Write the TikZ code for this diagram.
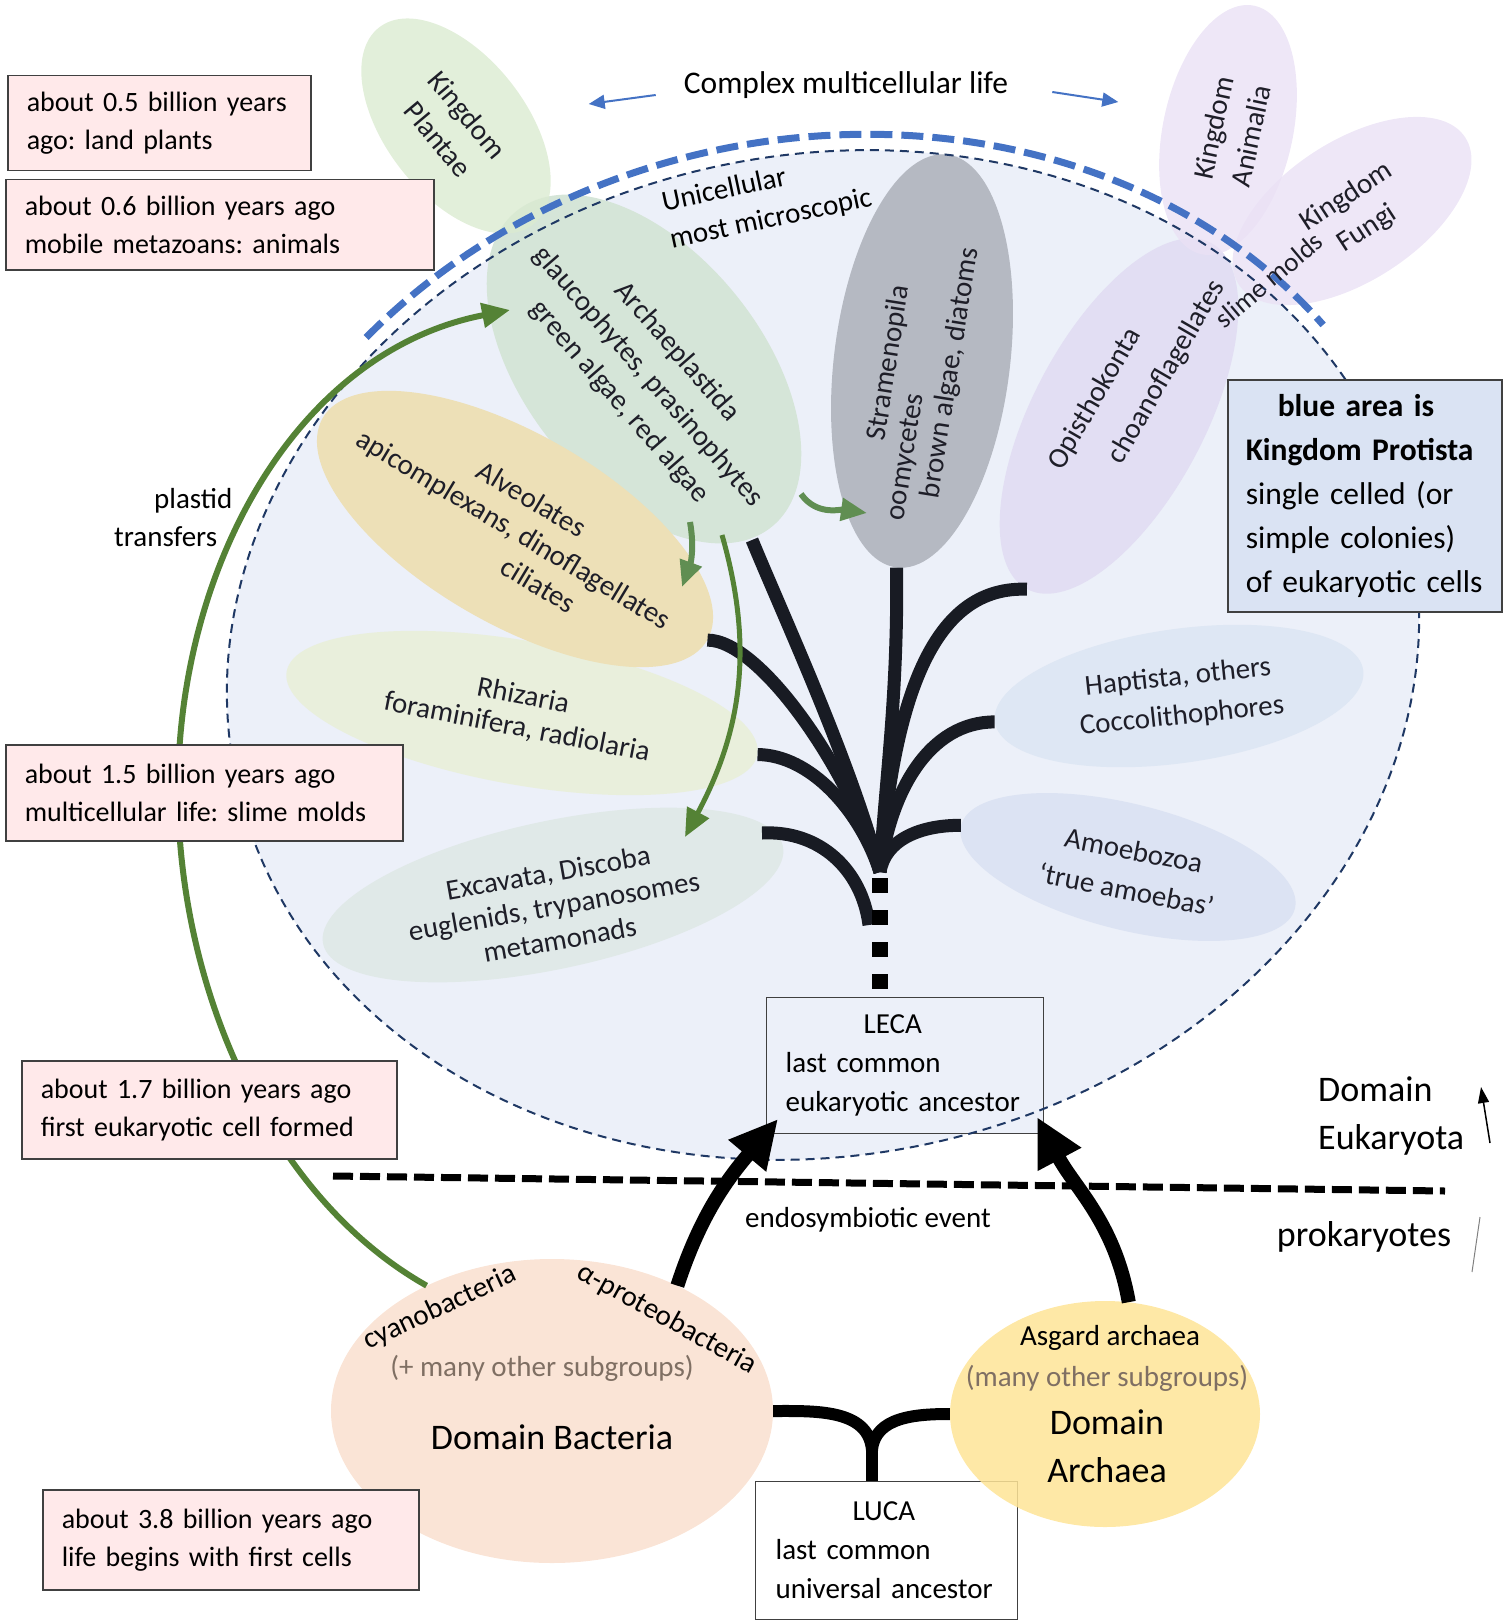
\documentclass[tikz,border=0pt]{standalone}
\usepackage{fontspec}
\setmainfont{Carlito}
\usetikzlibrary{shapes.geometric,arrows.meta}

\definecolor{protista}{RGB}{236,240,249}
\definecolor{protnavy}{RGB}{31,56,100}
\definecolor{multiblue}{RGB}{68,114,196}
\definecolor{plantaecol}{RGB}{219,235,209}
\definecolor{archplcol}{RGB}{213,229,216}
\definecolor{alveocol}{RGB}{237,224,183}
\definecolor{rhizcol}{RGB}{233,239,220}
\definecolor{excavcol}{RGB}{224,233,232}
\definecolor{stramcol}{RGB}{181,185,194}
\definecolor{opiscol}{RGB}{226,222,243}
\definecolor{animcol}{RGB}{234,225,245}
\definecolor{haptcol}{RGB}{222,231,244}
\definecolor{amoebcol}{RGB}{220,227,243}
\definecolor{bactcol}{RGB}{250,228,214}
\definecolor{archaeacol}{RGB}{254,228,150}
\definecolor{datepink}{RGB}{255,233,234}
\definecolor{infoblue}{RGB}{218,227,243}
\definecolor{plastid}{RGB}{84,130,53}
\definecolor{plastidlt}{RGB}{96,142,82}
\definecolor{branch}{RGB}{24,27,35}
\definecolor{subgray}{RGB}{127,111,99}
\definecolor{textdark}{RGB}{30,30,40}

\tikzset{
  every node/.style={inner sep=0pt, font=\fontsize{29}{38}\selectfont},
  clade/.style={ellipse, draw=none},
  cladetext/.style={align=center, text=textdark},
  datebox/.style={draw=black!75, fill=datepink, line width=1.5pt, anchor=north west, align=left, inner xsep=19pt, font=\fontsize{28}{38}\selectfont},
  ancbox/.style={draw=black!75, line width=1.2pt, anchor=north west, align=left, font=\fontsize{29}{39}\selectfont},
  treeline/.style={draw=branch, line width=13pt},
  dotstem/.style={draw=black, line width=16pt, dash pattern=on 15pt off 17pt},
  transfer/.style={draw=plastid, line width=6pt, -{Triangle[length=28pt,width=24pt]}},
  smalltransfer/.style={draw=plastidlt, line width=6pt, -{Triangle[length=26pt,width=22pt]}},
  ancarrow/.style={draw=black, line width=14pt, -{Triangle[length=48pt,width=46pt]}},
  fork/.style={draw=black, line width=12pt},
  multiarrow/.style={draw=multiblue, line width=2pt, -{Triangle[length=16pt,width=14pt]}},
  subgroup/.style={text=subgray},
  bigtext/.style={font=\fontsize{36}{48}\selectfont},
}

\begin{document}
\frenchspacing
\begin{tikzpicture}[x=1pt, y=1pt]
\useasboundingbox (0,0) rectangle (1502,-1621);

% blue area: Kingdom Protista
\node[clade, fill=protista, minimum width=1200pt, minimum height=1000pt, rotate=12] (protista) at (823,-655) {};

% LECA box
\node[ancbox, fill=protista, minimum width=277pt, minimum height=136pt, text width=239pt, inner xsep=19pt] (leca) at (766,-997) {\hspace*{78pt}LECA\\last common\\eukaryotic ancestor};

% protist groups and kingdoms
\node[clade, fill=archplcol, minimum width=406pt, minimum height=236pt, rotate=-51] (archpl) at (644,-369) {};
\node[clade, fill=plantaecol, fill opacity=0.8, minimum width=250pt, minimum height=140pt, rotate=-52] (plantae) at (456,-126) {};
\node[clade, fill=rhizcol, minimum width=478pt, minimum height=144pt, rotate=-10] (rhiz) at (522,-713) {};
\node[clade, fill=alveocol, minimum width=444pt, minimum height=190pt, rotate=-30] (alveo) at (515,-529) {};
\node[clade, fill=excavcol, minimum width=470pt, minimum height=148pt, rotate=12] (excav) at (553,-895) {};
\node[clade, fill=stramcol, minimum width=416pt, minimum height=176pt, rotate=83] (stram) at (922,-361) {};
\node[clade, fill=opiscol, minimum width=392pt, minimum height=172pt, rotate=62] (opis) at (1119,-416) {};
\node[clade, fill=animcol, fill opacity=0.8, minimum width=254pt, minimum height=130pt, rotate=78] (anim) at (1228,-130) {};
\node[clade, fill=animcol, fill opacity=0.8, minimum width=270pt, minimum height=140pt, rotate=33] (fungi) at (1352,-211) {};
\node[clade, fill=haptcol, minimum width=372pt, minimum height=134pt, rotate=8] (hapt) at (1179,-696) {};
\node[clade, fill=amoebcol, minimum width=344pt, minimum height=126pt, rotate=-14] (amoeb) at (1128,-867) {};

% dashed rim of the blue area
\node[clade, draw=protnavy, line width=2pt, dash pattern=on 9pt off 6pt, minimum width=1200pt, minimum height=1000pt, rotate=12] (protrim) at (protista) {};

% complex multicellular life
\begin{scope}[shift={(protista.center)}, rotate=12]
  \draw[multiblue, line width=7pt, dash pattern=on 22pt off 9pt] (128.2:616 and 516) arc[start angle=128.2, end angle=25.1, x radius=616, y radius=516];
\end{scope}
\node[font=\fontsize{31.5}{38}\selectfont] (complex) at (846,-85) {Complex multicellular life};
\draw[multiarrow] ([shift={(-28pt,-10pt)}]complex.west) -- ++(-67pt,-9pt);
\draw[multiarrow] ([shift={(44pt,-7pt)}]complex.east) -- ++(66pt,-10pt);

% group labels
\node[cladetext, rotate=-50] (tplantae) at (453,-127) {Kingdom\\Plantae};
\node[cladetext, rotate=-49] (tarchpl) at (648,-377) {Archaeplastida\\glaucophytes, prasinophytes\\green algae, red algae};
\node[cladetext, rotate=-31, font=\fontsize{29}{35}\selectfont] (talveo) at (514,-529) {Alveolates\\apicomplexans, dinoflagellates\\\rule{100pt}{0pt}ciliates};
\node[cladetext, rotate=-11, font=\fontsize{29}{32}\selectfont] (trhiz) at (520,-712) {Rhizaria\\foraminifera, radiolaria};
\node[cladetext, rotate=10, font=\fontsize{29}{34}\selectfont] (texcav) at (554,-906) {Excavata, Discoba\\euglenids, trypanosomes\\metamonads};
\node[cladetext, rotate=81, font=\fontsize{29}{31}\selectfont] (tstram) at (920,-368) {Stramenopila\\oomycetes\rule{180pt}{0pt}\\brown algae, diatoms};
\node[cladetext, rotate=60] (topis) at (1095,-399) {Opisthokonta};
\node[cladetext, rotate=60] (tchoano) at (1167,-372) {choanoflagellates};
\node[cladetext, rotate=78] (tanim) at (1232,-132) {Kingdom\\Animalia};
\node[cladetext, rotate=33] (tfungi) at (1357,-213) {Kingdom\\Fungi};
\node[cladetext, rotate=40, font=\fontsize{27}{32}\selectfont] (tslime) at (1269,-280) {slime molds};
\node[cladetext, rotate=6, font=\fontsize{29}{39}\selectfont] (thapt) at (1180,-697) {Haptista, others\\Coccolithophores};
\node[cladetext, rotate=-11, font=\fontsize{29}{40}\selectfont] (tamoeb) at (1130,-870) {Amoebozoa\\‘true amoebas’};
\node[align=left, rotate=12] (tunicell) at (767,-201) {Unicellular\\most microscopic};

% branches down to LECA
\coordinate (base) at (880,-872);
\coordinate (archplfoot) at (752,-540);
\coordinate (excavfoot) at (762,-833);
\coordinate (trunk) at (869,-925);
\draw[treeline] (archplfoot) .. controls (785,-620) and (850,-760) .. (base);
\draw[treeline] (stram.west) .. controls (898,-700) and (885,-780) .. (base);
\draw[treeline] (opis.west) .. controls (940,-586) and (895,-680) .. (base);
\draw[treeline] (alveo.east) .. controls (760,-640) and (850,-770) .. (base);
\draw[treeline] (rhiz.east) .. controls (810,-755) and (860,-810) .. (base);
\draw[treeline] (excavfoot) .. controls (820,-830) and (862,-870) .. (trunk);
\draw[treeline] (hapt.west) .. controls (930,-722) and (890,-790) .. (base);
\draw[treeline] (amoeb.west) .. controls (920,-825) and (885,-840) .. (base);
\draw[dotstem] ([yshift=-6pt]base) -- ([yshift=-118pt]base);

% secondary plastid transfers from Archaeplastida
\coordinate (gAlvS) at (690,-522);
\coordinate (gAlvT) at (682,-587);
\coordinate (gExcS) at (722,-535);
\coordinate (gExcT) at (685,-837);
\coordinate (gStrS) at (801,-494);
\coordinate (gStrT) at (867,-513);
\draw[smalltransfer] (gAlvS) to[out=-80, in=70] (gAlvT);
\draw[transfer, line width=5pt] (gExcS) to[out=-74, in=62] (gExcT);
\draw[smalltransfer] (gStrS) to[out=-55, in=172] (gStrT);

% prokaryote domains and LUCA
\node[ancbox, fill=white, minimum width=262pt, minimum height=138pt, text width=222pt, inner xsep=20pt] (luca) at (755,-1481) {\hspace*{77pt}LUCA\\last common\\universal ancestor};
\node[clade, fill=bactcol, minimum width=442pt, minimum height=304pt] (bact) at (552,-1411) {};
\node[clade, fill=archaeacol, fill opacity=0.85, minimum width=310pt, minimum height=226pt] (archaea) at (1105,-1414) {};
\node[rotate=25] (tcyano) at (440,-1308) {cyanobacteria};
\node[rotate=-29] (tproteo) at (667,-1319) {α-proteobacteria};
\node[subgroup] (tbactsub) at (542,-1368) {(+ many other subgroups)};
\node[bigtext] (tbact) at (552,-1437) {Domain Bacteria};
\node (tasgard) at (1110,-1338) {Asgard archaea};
\node[subgroup] (tarchsub) at (1107,-1378) {(many other subgroups)};
\node[bigtext, align=center] (tarch) at (1107,-1446) {Domain\\Archaea};
\coordinate (forkjoin) at (872,-1450);
\draw[fork] (bact.east) to[out=0, in=95] (forkjoin);
\draw[fork] (archaea.west) to[out=180, in=85] (forkjoin);
\draw[fork] (forkjoin) -- (forkjoin |- luca.north);

% eukaryote / prokaryote divide
\draw[line width=7pt, dash pattern=on 20pt off 7pt] (333,-1176) -- (1445,-1191);
\node[bigtext, anchor=west, align=left] (teuk) at (1318,-1116) {Domain\\Eukaryota};
\draw[line width=1.5pt, -{Triangle[length=16pt,width=11pt]}] (1490,-1143) -- (1481,-1087);
\node[bigtext] (tprok) at (1364,-1237) {prokaryotes};
\draw[gray, line width=1pt] (1480,-1217) -- (1472,-1272);

% plastid transfer from cyanobacteria
\coordinate (plastidtip) at (510,-310);
\draw[transfer] (bact.135) .. controls (271,-1198) and (178,-990) .. (178,-790) .. controls (178,-570) and (294,-352) .. (plastidtip);
\node[anchor=west, align=left] (tplastid) at (114,-518) {\hspace*{40pt}plastid\\transfers};

% time line boxes
\node[datebox, minimum width=303pt, minimum height=95pt, text width=265pt] (dateA) at (7,-75) {about 0.5 billion years\\ago: land plants};
\node[datebox, minimum width=428pt, minimum height=90pt, text width=390pt] (dateB) at (5,-179) {about 0.6 billion years ago\\mobile metazoans: animals};
\node[datebox, minimum width=397pt, minimum height=96pt, text width=359pt] (dateC) at (5,-744) {about 1.5 billion years ago\\multicellular life: slime molds};
\node[datebox, minimum width=375pt, minimum height=98pt, text width=337pt] (dateD) at (21,-1060) {about 1.7 billion years ago\\first eukaryotic cell formed};
\node[datebox, minimum width=376pt, minimum height=100pt, text width=338pt] (dateE) at (42,-1489) {about 3.8 billion years ago\\life begins with first cells};

% legend for the blue area
\node[draw=black!75, fill=infoblue, line width=1.5pt, anchor=north west, minimum width=274pt, minimum height=232pt, text width=238pt, inner xsep=18pt, align=left, font=\fontsize{31.5}{44}\selectfont] (info) at (1227,-379) {\textbf{\hspace*{32pt}blue area is}\\\textbf{Kingdom Protista}\\single celled (or\\simple colonies)\\of eukaryotic cells};

% endosymbiosis
\coordinate (lecaleft) at (778,-1119);
\coordinate (lecaright) at (1037,-1117);
\draw[ancarrow] (bact.45) to[out=72, in=230] (lecaleft);
\draw[ancarrow] (archaea.78) to[out=100, in=-62] (lecaright);
\node (tendo) at (868,-1220) {endosymbiotic event};

\end{tikzpicture}
\end{document}
